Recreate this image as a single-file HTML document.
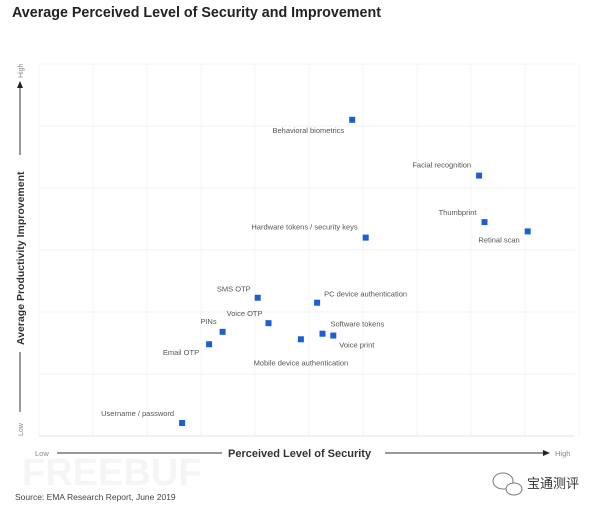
<!DOCTYPE html>
<html><head><meta charset="utf-8"><style>
body{margin:0;background:#fff;width:600px;height:509px;overflow:hidden;font-family:"Liberation Sans",sans-serif}
</style></head><body>
<svg width="600" height="509" xmlns="http://www.w3.org/2000/svg">
<text x="12" y="17" font-size="14.3" font-weight="bold" fill="#222">Average Perceived Level of Security and Improvement</text>
<g id="grid"></g>
<g id="pts"></g>
<g>
<text transform="translate(24,345) rotate(-90)" font-size="10.5" font-weight="bold" fill="#333">Average Productivity Improvement</text>
<line x1="20" y1="352" x2="20" y2="412" stroke="#333" stroke-width="1"/>
<line x1="20" y1="155" x2="20" y2="86" stroke="#333" stroke-width="1"/>
<polygon points="17,88 23,88 20,81" fill="#222"/>
<text transform="translate(23,78) rotate(-90)" font-size="7" fill="#888">High</text>
<text transform="translate(23,436) rotate(-90)" font-size="7" fill="#888">Low</text>
</g>
<g>
<text x="35" y="456" font-size="7.5" fill="#888">Low</text>
<line x1="57" y1="453" x2="222" y2="453" stroke="#333"/>
<text x="228" y="457" font-size="11" font-weight="bold" fill="#333">Perceived Level of Security</text>
<line x1="385" y1="453" x2="545" y2="453" stroke="#333"/>
<polygon points="543,450 550,453 543,456" fill="#222"/>
<text x="555" y="456" font-size="7.5" fill="#888">High</text>
</g>
<text x="22" y="485" font-size="38" font-weight="bold" fill="#f4f6f4">FREEBUF</text>
<text x="15" y="500" font-size="8.5" fill="#444">Source: EMA Research Report, June 2019</text>
<g><ellipse cx="503" cy="481" rx="10" ry="8" fill="none" stroke="#777"/><ellipse cx="514" cy="489" rx="8" ry="6" fill="#fff" stroke="#777"/></g>
<text x="527" y="488" font-size="13" fill="#333" font-family="Noto Sans CJK SC,sans-serif">宝通测评</text>
</svg>
<script>
const labels=["Behavioral biometrics","Facial recognition","Thumbprint","Retinal scan","Hardware tokens / security keys","SMS OTP","PC device authentication","Voice OTP","PINs","Software tokens","Voice print","Mobile device authentication","Email OTP","Username / password"];
const security=[5.8,8.15,8.25,9.05,6.05,4.05,5.15,4.25,3.4,5.25,5.45,4.85,3.15,2.65];
const improvement=[5.1,4.2,3.45,3.3,3.2,2.23,2.15,1.82,1.68,1.65,1.62,1.56,1.48,0.21];
// label placement (layout only): dx, dy, anchor
const lblDx=[-8,-8,-8,-8,-8,-7,7,-6,-6,8,6,0,-10,-8];
const lblDy=[13,-8,-7,11,-8,-6,-6,-7,-8,-7,12,26,11,-7];
const lblAnchor=["end","end","end","end","end","end","start","end","end","start","start","middle","end","end"];
const X0=39,X1=579,Y0=436,Y1=64;
const xs=v=>X0+v*(X1-X0)/10, ys=v=>Y0-v*(Y0-Y1)/6;
const NS="http://www.w3.org/2000/svg";
const g=document.getElementById('grid'),p=document.getElementById('pts');
function mk(t,a,par){const e=document.createElementNS(NS,t);for(const k in a)e.setAttribute(k,a[k]);par.appendChild(e);return e;}
for(let i=0;i<=10;i++){const l=mk('line',{x1:xs(i),x2:xs(i),y1:Y1,y2:Y0,stroke:'#f5f5f5'},g);

}
for(let j=0;j<=6;j++){const l=mk('line',{x1:X0,x2:X1-4,y1:ys(j),y2:ys(j),stroke:j==0?'#e4e4e4':'#f0f0f0'},g);

}
labels.forEach((n,i)=>{const cx=xs(security[i]),cy=ys(improvement[i]);
const r=mk('rect',{x:cx-3,y:cy-3,width:6,height:6,fill:'#1a5fd6'},p);


const t=mk('text',{x:cx+lblDx[i],y:cy+lblDy[i],'font-size':7.5,fill:'#555','text-anchor':lblAnchor[i]},p);
t.textContent=n;


});
</script>
</body></html>
